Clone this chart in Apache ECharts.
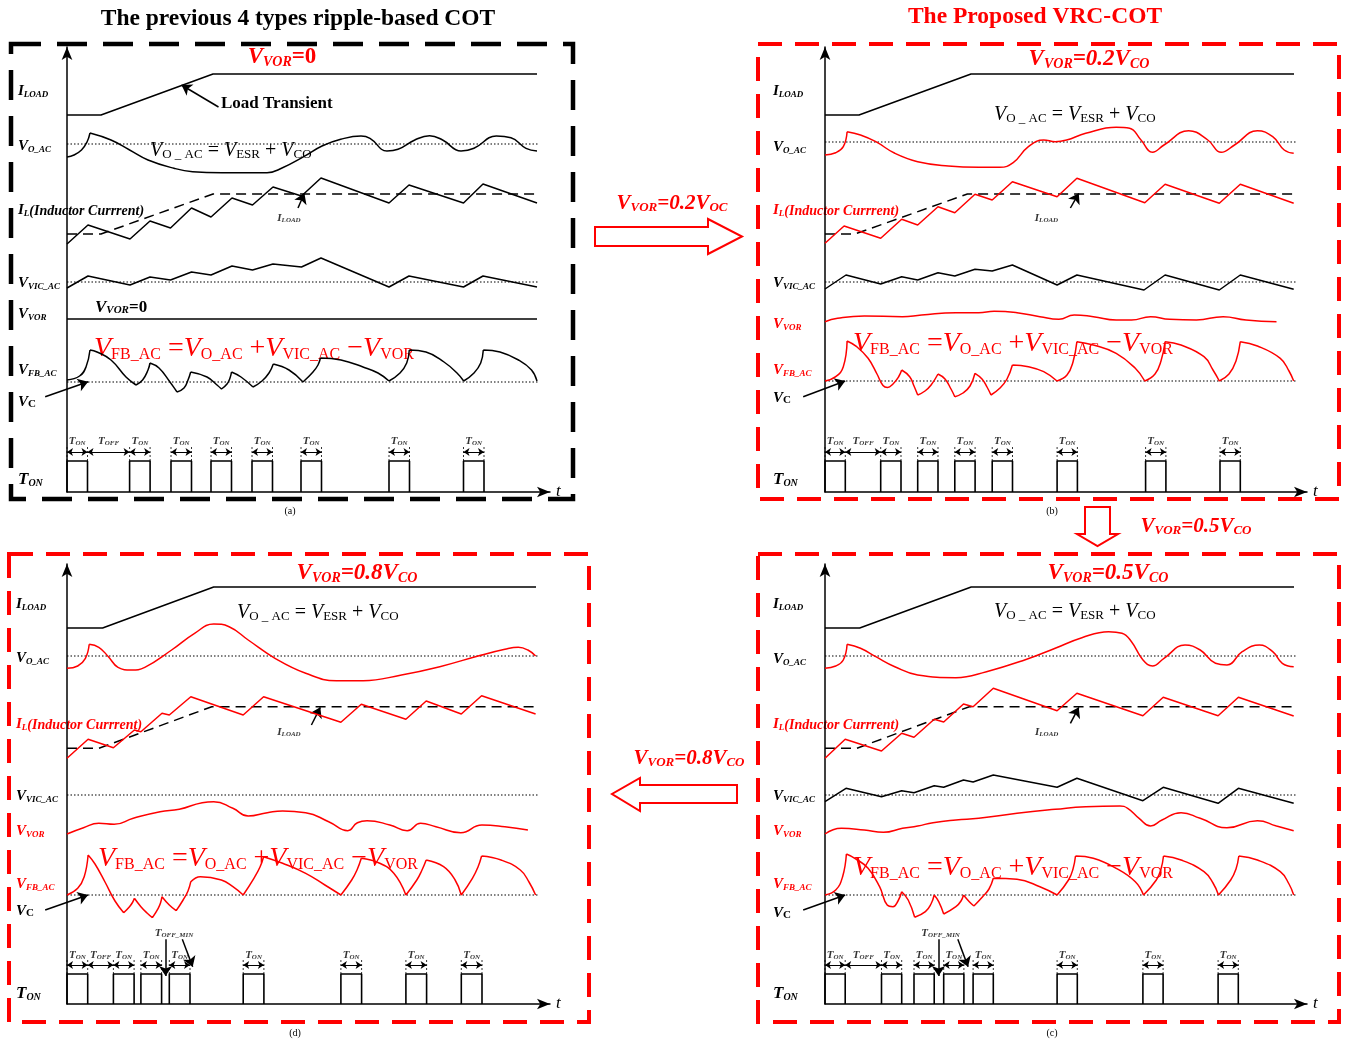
<!DOCTYPE html>
<html><head><meta charset="utf-8">
<script src="https://cdn.jsdelivr.net/npm/echarts/dist/echarts.min.js"></script>
<style>html,body{margin:0;padding:0;background:#fff}#c{width:1347px;height:1042px}</style>
</head><body><div id="c"></div>
<script>
// ===== DATA (time units along t, level units above the t axis) =====
// ---- (a) previous ripple-based COT, V_VOR = 0 ----
const a_iLoad = [[0,377],[34,377],[146,418],[470,418]];
const a_refLevels = [348, 210, 110];
const a_vo = [
 [[0,335],[7,337],[14.5,342],[20,350],[23,359]],
 [[23,359],[44,352],[62.6,342],[81,332],[107,323.7],[125.6,320.3],[155,319.3],[200,319.3],[214.5,323.7],[236.7,335.3],[255,346],[273.7,352.7],[294,356],[303,353.7],[320,341],[331,342.7],[347.8,352],[362.6,356.3],[375.6,352],[394,341],[407,343.7],[429.3,356],[444,354.3],[459,343.7],[470,341]]
];
const a_il = [[0,248],[21,267],[63,253],[83,271],[103.5,264],[124.5,284],[144,275],[165,294],[185.5,287],[206,305],[234.5,296],[254,314],[322,289],[342,307],[396.5,289],[416,308],[470,289]];
const a_ilLoad = [[0,258],[34,258],[146,298],[470,298]];
const a_vic = [[0,204],[21,216],[63,207],[83,215],[103.5,212],[124.5,220],[144,217],[165,226],[185.5,222],[206,228],[234.5,225],[254,234],[322,205],[342,216],[396.5,205],[416,216],[470,205]];
const a_vor = [[0,173],[470,173]];
const a_fb = [
 [[0,112],[12.6,116],[19,125],[23,142]],
 [[23,142],[30,140],[44,132],[59,115],[69,107]],
 [[69,107],[75.6,112],[81,122],[83,129]],
 [[83,129],[92,124],[103,110],[110,100]],
 [[110,100],[117,104],[121,112],[123.7,120]],
 [[123.7,120],[140,115],[150,107],[154.5,103]],
 [[154.5,103],[160,108],[163,114],[164.5,120]],
 [[164.5,120],[174,115],[186,105]],
 [[186,105],[195,111],[202,119],[206.3,128]],
 [[206.3,128],[222,122],[236,110]],
 [[236,110],[246,120],[251,127],[253.4,134]],
 [[253.4,134],[274,132],[296,125],[311,119],[322,111]],
 [[322,111],[333,119],[339.7,129],[342.3,142]],
 [[342.3,142],[359,140],[377,130],[390,119],[396.7,111]],
 [[396.7,111],[407,119],[413.7,129],[416.3,142]],
 [[416.3,142],[433,140],[451.5,132],[464.5,122],[470,111]]
];
const a_onStarts = [0, 62.6, 104, 144, 185, 234, 322, 396.5];
const a_onWidth = 20.5;
const a_onHeight = 31;

// ---- (b) V_VOR = 0.2 V_CO ----
const b_iLoad = [[0,377],[34,377],[146,418],[469,418]];
const b_refLevels = [350, 210, 111];
const b_vo = [
 [[0,337],[10.7,339.3],[18.3,345.3],[22.1,360.3]],
 [[22.1,360.3],[35.5,357],[50.8,350.3],[69.8,338.7],[92.7,330.3],[123.3,326],[153.8,324.7],[174.8,324.7],[188.2,329.3],[203.4,345.3],[218.7,352],[230.2,350.3],[241.6,352],[260.7,358.7],[291.2,364.7],[304.6,363.7],[316,352],[327.5,339.7],[339,347],[363.7,361.3],[382.8,352],[396.2,339.7],[409.5,347],[432.4,361.3],[447.7,355.3],[459.2,342],[468.7,338.7]]
];
const b_il = [[0,248.7],[19.1,266],[55.7,253.7],[76.7,272.7],[92.7,267],[113,285.3],[129.8,279.3],[150,297.7],[167.2,292],[187.4,310.3],[232.1,295.3],[251.9,313.7],[319.8,289.3],[340.1,307.7],[394.3,288.7],[415.3,307.7],[468.7,288.7]];
const b_ilLoad = [[0,258],[30,258],[142.4,298],[469,298]];
const b_vic = [[0,203],[21,217],[55.7,208],[76.7,215.3],[92.7,212],[113,219.3],[129.8,216],[150,222.7],[167.2,221],[187.4,227],[232.1,207],[251.9,217],[319,202],[340.1,217],[394.3,202],[415.3,217],[468.7,202.7]];
const b_vor = [[0,170.3],[12.6,173.7],[39.3,176],[77.5,175.3],[96.6,177],[130.9,179.3],[153.8,179.3],[169.1,180.7],[192,179.3],[214.9,175.3],[233.9,172.7],[249.2,177],[268.3,175.3],[291.2,172],[306.5,172],[325.6,175.3],[344.7,172.7],[371.4,172],[398.1,175.3],[421,172],[451.5,170.3]];
const b_fb = [
 [[0,111],[10.7,115.3],[18.3,125.3],[22.1,151]],
 [[22.1,151],[31.7,145.3],[43.1,133.7],[52,118],[58,106.5],[62.5,104.5],[68,108],[73.5,115],[76.7,122]],
 [[76.7,122],[84.7,115.3],[89,106],[92.7,97]],
 [[92.7,97],[100,101],[106.1,107],[113,118]],
 [[113,118],[120,113],[126,103],[129.8,95.3]],
 [[129.8,95.3],[138,99],[145,106],[150,118.7]],
 [[150,118.7],[157,113],[162,105],[166,97]],
 [[166,97],[175,104],[182,113],[187.4,127]],
 [[187.4,127],[203.4,125.3],[218.7,120.3],[232,111]],
 [[232,111],[242,117],[248,130],[251.9,150.3]],
 [[251.9,150.3],[268.3,147],[291.2,138.7],[310.3,123.7],[319.8,111]],
 [[319.8,111],[330,118],[336,131],[340.1,150.3]],
 [[340.1,150.3],[356,147],[379,135.3],[388,122],[394.3,111]],
 [[394.3,111],[404,118],[411,131],[415.3,150.3]],
 [[415.3,150.3],[432.4,146],[455.3,133.7],[464,121],[468.7,111]]
];
const b_onStarts = [0, 55.7, 92.7, 129.8, 167.2, 232.1, 320.6, 395];
const b_onWidth = 20.3;
const b_onHeight = 31;

// ---- (c) V_VOR = 0.5 V_CO ----
const c_iLoad = [[0,376],[34.7,376],[146.2,417],[469,417]];
const c_refLevels = [348, 209, 109];
const c_vo = [
 [[0,335.7],[10.7,338],[18.3,344],[22.1,359.7]],
 [[22.1,359.7],[35.5,355.7],[50.8,347.3],[69.8,337.3],[92.7,329],[130.9,326.3],[161.5,332.3],[199.6,344],[230.2,355.7],[256.9,366.3],[283.6,372.3],[297,370.7],[306.5,362.3],[318,344],[327.5,338],[339,345.7],[360,359],[375.2,354],[390.5,340.7],[402,339],[417.2,352.3],[434.4,359],[447.7,352.3],[457.3,340.7],[468.7,337.3]]
];
const c_il = [[0,245.7],[20.2,264.7],[56.5,253],[76.7,270.7],[89,266.7],[109.2,284.7],[118.7,282],[138.5,300],[148.1,297.3],[168.3,315.7],[232.1,293.3],[251.9,310.7],[317.9,288.3],[338.2,306.7],[393.1,288.3],[413.4,306.7],[468.7,288]];
const c_ilLoad = [[0,255.7],[31.7,255.7],[144.3,297.3],[469,297.3]];
const c_vic = [[0,202.3],[21,215.7],[56.5,207.3],[76.7,213.3],[89,211.3],[109.2,218.3],[118.7,216.7],[138.5,224],[148.1,222],[168.3,229],[232.1,216.7],[251.9,225.7],[317.9,203.3],[338.2,216.7],[393.1,200.7],[413.4,215.7],[468.7,200.7]];
const c_vor = [[0,170],[16.4,175.7],[39.3,174],[58.4,171.7],[77.5,175.7],[92.7,178],[108,181.3],[130.9,184],[153.8,185.7],[192,190.7],[230.2,194.7],[260.7,197.3],[295,198],[302.7,195.7],[314.1,185.7],[325.6,178],[337,184],[356.1,191.3],[375.2,185.7],[401.9,176.3],[432.4,183.3],[451.5,178],[468.7,173.3]];
const c_fb = [
 [[0,109],[10.7,114],[17.6,127.3],[21.4,150]],
 [[21.4,150],[29.8,145.7],[43.1,135.7],[54.6,117.3],[62.2,99],[68,97.3],[73,103],[76.7,112.3]],
 [[76.7,112.3],[83.2,104],[89.7,86.7]],
 [[89.7,86.7],[100.4,92.3],[106,100],[109.2,109]],
 [[109.2,109],[113.7,102.3],[118.7,90]],
 [[118.7,90],[130.9,97.3],[136,103],[138.5,109]],
 [[138.5,109],[144.3,102.3],[148.9,98]],
 [[148.9,98],[157.6,107.3],[164,115],[168.3,125.7]],
 [[168.3,125.7],[192,124.7],[214.9,117.3],[232.1,109]],
 [[232.1,109],[243.5,124],[248,135],[250.5,148]],
 [[250.5,148],[268.3,145.7],[291.2,135.7],[310.3,122.3],[318.5,109]],
 [[318.5,109],[331.3,124],[336,135],[338.5,148]],
 [[338.5,148],[356.1,144],[379,132.3],[388,121],[393.5,109]],
 [[393.5,109],[405.7,124],[411,135],[413.8,148]],
 [[413.8,148],[432.4,144],[455.3,132.3],[464,120],[468.7,109]]
];
const c_onStarts = [0, 56.5, 89, 118.7, 148.1, 232.1, 317.9, 393.1];
const c_onWidth = 20.2;
const c_onHeight = 30;

// ---- (d) V_VOR = 0.8 V_CO ----
const d_iLoad = [[0,376],[35.6,376],[146.7,417],[469,417]];
const d_refLevels = [348, 209, 109];
const d_vo = [
 [[0,335.7],[10.7,338],[18.4,345.7],[22.2,359.7]],
 [[22.2,359.7],[31.8,356.7],[41.4,347.3],[51,336.7],[64.4,334],[77.8,336.7],[104.6,354],[127.6,370.7],[146.7,380],[162.1,377.3],[181.2,364],[208,345.7],[238.7,330.7],[269.3,323.3],[296.2,323.3],[334.5,329],[372.8,337.3],[411.1,348],[437.9,354.7],[451.3,356.7],[460.9,354],[468.6,348]]
];
const d_il = [[0,245.7],[21.1,264.7],[46.4,256.3],[67.4,274],[73.9,272.3],[95,290.7],[102.3,289],[123.8,307.3],[176.2,289],[196.6,307.3],[273.9,281.7],[294.3,299.7],[338.9,284.7],[359.2,303],[394.3,290],[414.6,308.3],[468.6,290]];
const d_ilLoad = [[0,255.7],[31.8,255.7],[144.8,297.3],[469,297.3]];
const d_vor = [[0,170],[16.5,176.3],[31.8,180.7],[47.1,179.7],[66.3,185.7],[93.1,192.3],[112.3,194.7],[135.2,201.3],[146.7,202.3],[165.9,195.7],[181.2,188],[200.3,191.3],[215.6,193],[238.7,191.3],[261.7,182.3],[280.8,173.3],[290.4,181.3],[300,183.3],[322.9,179],[340.2,173.3],[353.6,180.7],[368.9,177.3],[393.8,171.3],[414.9,179],[437.9,177.3],[460.9,174]];
const d_fb = [
 [[0,109],[10.7,115.7],[17.2,127.3],[21.1,149]],
 [[21.1,149],[28,140],[38,122],[48,103],[56.7,91.3]],
 [[56.7,91.3],[62.5,97.3],[65.5,101.5],[67.4,105.7]],
 [[67.4,105.7],[73.9,97.3],[80,91],[85.4,86.3]],
 [[85.4,86.3],[91.2,95.7],[93.5,101],[95,107.3]],
 [[95,107.3],[102.3,99],[109.2,93.3]],
 [[109.2,93.3],[116.1,104],[121,113],[123.8,122.3]],
 [[123.8,122.3],[133.3,127.3],[154.4,124],[165.9,117.3],[176.2,109]],
 [[176.2,109],[186.9,125.7],[193,137],[196.6,147.3]],
 [[196.6,147.3],[215.6,140.7],[238.7,130.7],[257.9,119],[273.9,109]],
 [[273.9,109],[284.7,124],[290,134],[294.3,145.7]],
 [[294.3,145.7],[311.5,141.3],[326.8,130.7],[338.9,109]],
 [[338.9,109],[349.8,124],[355,134],[359.2,144]],
 [[359.2,144],[376.6,137.3],[388.1,124],[394.3,109]],
 [[394.3,109],[405.4,125.7],[411,137],[414.6,148]],
 [[414.6,148],[434.1,144],[453.3,134],[462,122],[468.6,109]]
];
const d_onStarts = [0, 46.4, 73.9, 102.3, 176.2, 273.9, 338.9, 394.3];
const d_onWidth = 20.7;
const d_onHeight = 30;

// annotation arrows (from, to) in each panel's own units
const a_arrows = [[[151.5,385],[114.5,407]], [[231,284],[237.4,298.7]], [[-21.8,95.3],[21.1,110.3]]];
const b_arrows = [[[245.4,284],[253.8,298.7]], [[-21.8,95.3],[20.2,111]]];
const c_arrows = [[[245.4,280.7],[253.8,296.7]], [[-21.8,94],[20.2,109]], [[113.5,64.7],[113.5,28]], [[132.8,64.7],[143.1,37.3]]];
const d_arrows = [[[244.4,279],[253.3,296.7]], [[-21.8,94],[21,109]], [[98.6,64.7],[98.6,28]], [[115.3,64.7],[125.7,37.3]]];
// extra text anchors: I_LOAD tag, T_OFF_MIN tag
const a_tags = [[222,275,'I','LOAD']];
const b_tags = [[221.5,275,'I','LOAD']];
const c_tags = [[221.7,273,'I','LOAD'], [115.6,72,'T','OFF_MIN']];
const d_tags = [[222,273,'I','LOAD'], [107,72,'T','OFF_MIN']];

// ===== RENDERING =====
const FONT = '"Liberation Serif","Times New Roman",serif';
const RED = '#ff0000', BLK = '#000000';
const bi = {fontStyle:'italic', fontWeight:'bold', fontFamily:FONT};

function segs(list){
  const out = [];
  list.forEach((s,i)=>{ if(i>0) out.push([s[0][0],'-']); s.forEach(p=>out.push(p)); });
  return out;
}
function pulseLine(st,w,h){ const o=[]; st.forEach(s=>{o.push([s,0],[s,h],[s+w,h],[s+w,0],[s+w,'-']);}); return o; }
function pulseTicks(st,w,h,top){ const o=[]; st.forEach(s=>{o.push([s,h],[s,top],[s,'-'],[s+w,h],[s+w,top],[s+w,'-']);}); return o; }

const panels = [
 {grid:{left:67,top:47,width:483,height:445}, W:483,H:445, iLoad:a_iLoad, refs:a_refLevels, vo:a_vo, voC:BLK, il:a_il, ilC:BLK, ilLoad:a_ilLoad, vic:a_vic, vor:a_vor, vorC:BLK, vorSmooth:false, fb:a_fb, fbC:BLK, on:a_onStarts, onW:a_onWidth, onH:a_onHeight, tickTop:46, arrY:40, lblY:51.5, arrows:a_arrows, tags:a_tags},
 {grid:{left:825,top:47,width:482,height:445}, W:482,H:445, iLoad:b_iLoad, refs:b_refLevels, vo:b_vo, voC:RED, il:b_il, ilC:RED, ilLoad:b_ilLoad, vic:b_vic, vor:b_vor, vorC:RED, vorSmooth:0.5, fb:b_fb, fbC:RED, on:b_onStarts, onW:b_onWidth, onH:b_onHeight, tickTop:46, arrY:40, lblY:51.5, arrows:b_arrows, tags:b_tags},
 {grid:{left:825,top:564,width:482,height:440}, W:482,H:440, iLoad:c_iLoad, refs:c_refLevels, vo:c_vo, voC:RED, il:c_il, ilC:RED, ilLoad:c_ilLoad, vic:c_vic, vor:c_vor, vorC:RED, vorSmooth:0.5, fb:c_fb, fbC:RED, on:c_onStarts, onW:c_onWidth, onH:c_onHeight, tickTop:45, arrY:39, lblY:49.5, arrows:c_arrows, tags:c_tags},
 {grid:{left:67,top:564,width:483,height:440}, W:483,H:440, iLoad:d_iLoad, refs:d_refLevels, vo:d_vo, voC:RED, il:d_il, ilC:RED, ilLoad:d_ilLoad, vic:null, vor:d_vor, vorC:RED, vorSmooth:0.5, fb:d_fb, fbC:RED, on:d_onStarts, onW:d_onWidth, onH:d_onHeight, tickTop:45, arrY:39, lblY:49.5, arrows:d_arrows, tags:d_tags}
];

const R_TON = {
  m:{...bi,fontSize:11,lineHeight:13,verticalAlign:'bottom'},
  s:{...bi,fontSize:7,lineHeight:7,verticalAlign:'bottom'}
};

const grids=[], xAxes=[], yAxes=[], series=[];
function lineS(i,data,color,extra){
  return Object.assign({type:'line',xAxisIndex:i,yAxisIndex:i,data,symbol:'none',silent:true,connectNulls:false,
    lineStyle:{color,width:1.5}}, extra||{});
}
const axisArrow = {show:true,onZero:false,symbol:['none','arrow'],symbolSize:[8,13],lineStyle:{color:BLK,width:1.5}};
panels.forEach((p,i)=>{
  grids.push(p.grid);
  xAxes.push({type:'value',gridIndex:i,min:0,max:p.W,axisLine:axisArrow,axisTick:{show:false},axisLabel:{show:false},splitLine:{show:false},
    name:'t',nameLocation:'end',nameGap:6,nameTextStyle:{fontFamily:FONT,fontStyle:'italic',fontSize:17,color:BLK,padding:[0,0,6,0]}});
  yAxes.push({type:'value',gridIndex:i,min:0,max:p.H,axisLine:axisArrow,axisTick:{show:false},axisLabel:{show:false},splitLine:{show:false}});
  series.push(lineS(i,p.iLoad,BLK));
  p.refs.forEach(lv=>series.push(lineS(i,[[0,lv],[471,lv]],BLK,{lineStyle:{color:BLK,width:1.1,type:[1.5,2]}})));
  series.push(lineS(i,segs(p.vo),p.voC,{smooth:0.45}));
  series.push(lineS(i,p.ilLoad,BLK,{lineStyle:{color:BLK,width:1.5,type:[10,6]}}));
  series.push(lineS(i,p.il,p.ilC));
  if(p.vic) series.push(lineS(i,p.vic,BLK));
  series.push(lineS(i,p.vor,p.vorC,{smooth:p.vorSmooth}));
  series.push(lineS(i,segs(p.fb),p.fbC,{smooth:0.45}));
  series.push(lineS(i,pulseLine(p.on,p.onW,p.onH),BLK,{lineStyle:{color:BLK,width:1.6}}));
  series.push(lineS(i,pulseTicks(p.on,p.onW,p.onH,p.tickTop),BLK,{lineStyle:{color:BLK,width:0.8,type:[2,2]}}));
  const dbl = p.on.map(s=>({coords:[[s,p.arrY],[s+p.onW,p.arrY]]}));
  dbl.push({coords:[[p.on[0]+p.onW,p.arrY],[p.on[1],p.arrY]]});
  series.push({type:'lines',coordinateSystem:'cartesian2d',xAxisIndex:i,yAxisIndex:i,symbol:['arrow','arrow'],symbolSize:6,
    lineStyle:{color:BLK,width:1,opacity:1,curveness:0},data:dbl,silent:true,clip:false});
  series.push({type:'lines',coordinateSystem:'cartesian2d',xAxisIndex:i,yAxisIndex:i,symbol:['none','arrow'],symbolSize:10,
    lineStyle:{color:BLK,width:1.5,opacity:1,curveness:0},data:p.arrows.map(a=>({coords:a})),silent:true,clip:false});
  const lbls = p.on.map(s=>({value:[s+p.onW/2,p.lblY],name:'{m|T}{s|ON}'}));
  lbls.push({value:[(p.on[0]+p.onW+p.on[1])/2,p.lblY],name:'{m|T}{s|OFF}'});
  p.tags.forEach(t=>lbls.push({value:[t[0],t[1]],name:'{m|'+t[2]+'}{s|'+t[3]+'}'}));
  series.push({type:'scatter',xAxisIndex:i,yAxisIndex:i,symbolSize:0.1,itemStyle:{color:'rgba(0,0,0,0)'},silent:true,clip:false,
    label:{show:true,position:'inside',color:BLK,formatter:q=>q.name,rich:R_TON},data:lbls});
});

// ---- text & decoration ----
const R_LBL = {
  m:{...bi,fontSize:15,lineHeight:18,verticalAlign:'bottom'},
  s:{...bi,fontSize:9,lineHeight:9,verticalAlign:'bottom'},
  t:{...bi,fontSize:14,lineHeight:18,verticalAlign:'bottom'},
  u:{fontWeight:'bold',fontFamily:FONT,fontSize:11,lineHeight:10,verticalAlign:'bottom'},
  M:{...bi,fontSize:17,lineHeight:20,verticalAlign:'bottom'},
  S:{...bi,fontSize:10,lineHeight:10,verticalAlign:'bottom'}
};
const R_HDR = {
  m:{...bi,fontSize:23,lineHeight:26,verticalAlign:'bottom'},
  s:{...bi,fontSize:14,lineHeight:13,verticalAlign:'bottom'},
  u:{fontWeight:'bold',fontFamily:FONT,fontSize:23,lineHeight:26,verticalAlign:'bottom'}
};
const R_HDR2 = {
  m:{...bi,fontSize:17,lineHeight:20,verticalAlign:'bottom'},
  s:{...bi,fontSize:11,lineHeight:10,verticalAlign:'bottom'},
  u:{fontWeight:'bold',fontFamily:FONT,fontSize:17,lineHeight:20,verticalAlign:'bottom'}
};
const R_EQ = {
  m:{fontStyle:'italic',fontFamily:FONT,fontSize:20,lineHeight:22,verticalAlign:'bottom'},
  s:{fontFamily:FONT,fontSize:13,lineHeight:13,verticalAlign:'bottom'},
  o:{fontFamily:FONT,fontSize:20,lineHeight:22,verticalAlign:'bottom'}
};
const R_FB = {
  m:{fontStyle:'italic',fontFamily:FONT,fontSize:28,lineHeight:31,verticalAlign:'bottom'},
  s:{fontFamily:FONT,fontSize:16,lineHeight:14,verticalAlign:'bottom'},
  o:{fontFamily:FONT,fontSize:28,lineHeight:31,verticalAlign:'bottom'}
};
function T(x,y,text,rich,fill,align){
  return {type:'text',x,y,silent:true,style:{text,rich,fill:fill||BLK,align:align||'left',verticalAlign:'middle'}};
}
const EQ_VO = '{m|V}{s|O _ AC}{o| = }{m|V}{s|ESR}{o| + }{m|V}{s|CO}';
const EQ_FB = '{m|V}{s|FB_AC}{o| =}{m|V}{s|O_AC}{o| +}{m|V}{s|VIC_AC}{o| −}{m|V}{s|VOR}';

function sideLabels(x,ys,cols){
  const keys = ['{m|I}{s|LOAD}','{m|V}{s|O_AC}','{m|I}{s|L}{t|(Inductor Currrent)}','{m|V}{s|VIC_AC}','{m|V}{s|VOR}','{m|V}{s|FB_AC}','{m|V}{u|C}','{M|T}{S|ON}'];
  return keys.map((k,j)=>T(x,ys[j],k,R_LBL,cols[j]));
}
const B=BLK, Rr=RED;
const graphic = [];
function frame(x,y,w,h,c,lw,dash){return {type:'rect',silent:true,shape:{x,y,width:w,height:h},style:{fill:'none',stroke:c,lineWidth:lw,lineDash:dash}};}
graphic.push(frame(11,44,562,455,BLK,4.5,[30,16]));
graphic.push(frame(758,44,581,455,RED,4,[24,13]));
graphic.push(frame(758,554,581,468,RED,4,[24,13]));
graphic.push(frame(9,554,580,468,RED,4,[24,13]));
graphic.push({type:'text',x:298,y:19,silent:true,style:{text:'The previous 4 types ripple-based COT',font:'bold 23.5px '+FONT,fill:BLK,align:'center',verticalAlign:'middle'}});
graphic.push({type:'text',x:1035,y:17,silent:true,style:{text:'The Proposed VRC-COT',font:'bold 23.5px '+FONT,fill:RED,align:'center',verticalAlign:'middle'}});
graphic.push(T(282,56,'{m|V}{s|VOR}{u|=0}',R_HDR,RED,'center'));
graphic.push(T(1089,58,'{m|V}{s|VOR}{m|=0.2V}{s|CO}',R_HDR,RED,'center'));
graphic.push(T(1108,572,'{m|V}{s|VOR}{m|=0.5V}{s|CO}',R_HDR,RED,'center'));
graphic.push(T(357,572,'{m|V}{s|VOR}{m|=0.8V}{s|CO}',R_HDR,RED,'center'));
graphic.push(...sideLabels(18,[90,145,209,282,313,369,401,478],[B,B,B,B,B,B,B,B]));
graphic.push(...sideLabels(773,[90,146,209,282,323,369,397,478],[B,B,Rr,B,Rr,Rr,B,B]));
graphic.push(...sideLabels(773,[603,658,723,795,830,883,912,992],[B,B,Rr,B,Rr,Rr,B,B]));
graphic.push(...sideLabels(16,[603,657,723,795,830,883,910,992],[B,B,Rr,B,Rr,Rr,B,B]));
graphic.push(T(150,150,EQ_VO,R_EQ,BLK));
graphic.push(T(994,114,EQ_VO,R_EQ,BLK));
graphic.push(T(994,611,EQ_VO,R_EQ,BLK));
graphic.push(T(237,612,EQ_VO,R_EQ,BLK));
graphic.push(T(94,347,EQ_FB,R_FB,RED));
graphic.push(T(853,342,EQ_FB,R_FB,RED));
graphic.push(T(853,866,EQ_FB,R_FB,RED));
graphic.push(T(98,857,EQ_FB,R_FB,RED));
graphic.push({type:'text',x:221,y:104,silent:true,style:{text:'Load Transient',font:'bold 17px '+FONT,fill:BLK,align:'left',verticalAlign:'middle'}});
graphic.push(T(95,306,'{m|V}{s|VOR}{u|=0}',R_HDR2,BLK));
[['(a)',290,511],['(b)',1052,511],['(c)',1052,1033],['(d)',295,1033]].forEach(c=>graphic.push({type:'text',x:c[1],y:c[2],silent:true,style:{text:c[0],font:'10px '+FONT,fill:BLK,align:'center',verticalAlign:'middle'}}));
function poly(pts){return {type:'polygon',silent:true,shape:{points:pts},style:{fill:'#fff',stroke:RED,lineWidth:2}};}
graphic.push(poly([[595,227],[708,227],[708,219],[742,236.5],[708,254],[708,246],[595,246]]));
graphic.push(poly([[1085,507],[1110,507],[1110,534],[1118,534],[1097.5,546],[1077,534],[1085,534]]));
graphic.push(poly([[737,785],[640,785],[640,778],[612,794],[640,811],[640,803],[737,803]]));
const R_ARR = {m:{...bi,fontSize:21,lineHeight:24,verticalAlign:'bottom'}, s:{...bi,fontSize:13,lineHeight:12,verticalAlign:'bottom'}};
graphic.push(T(672,202,'{m|V}{s|VOR}{m|=0.2V}{s|OC}',R_ARR,RED,'center'));
graphic.push(T(1196,525,'{m|V}{s|VOR}{m|=0.5V}{s|CO}',R_ARR,RED,'center'));
graphic.push(T(689,757,'{m|V}{s|VOR}{m|=0.8V}{s|CO}',R_ARR,RED,'center'));

const chart = echarts.init(document.getElementById('c'),null,{renderer:'canvas'});
chart.setOption({animation:false,backgroundColor:'#fff',grid:grids,xAxis:xAxes,yAxis:yAxes,series,graphic});
</script></body></html>
